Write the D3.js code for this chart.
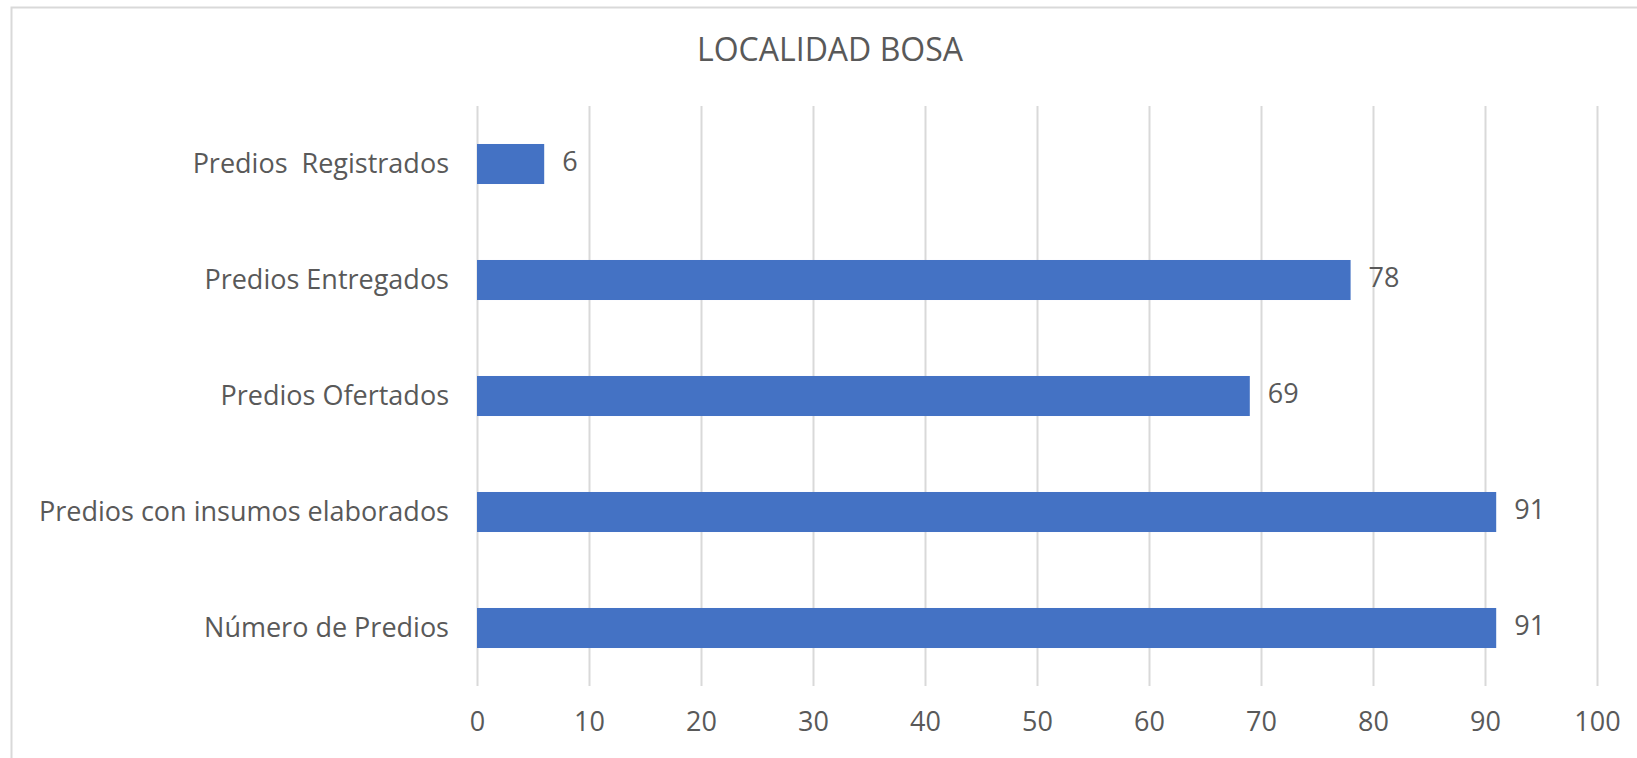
<!DOCTYPE html>
<html>
<head>
<meta charset="utf-8">
<script src="https://cdn.jsdelivr.net/npm/d3@7"></script>
<style>
  body { margin: 0; background: #fff; }
  text { font-family: "Open Sans", "Noto Sans", sans-serif; fill: #595959; }
</style>
</head>
<body>
<svg id="chart" width="1637" height="758"></svg>
<script>
var title = "LOCALIDAD BOSA";
var categories = ["Predios  Registrados", "Predios Entregados", "Predios Ofertados", "Predios con insumos elaborados", "Número de Predios"];
var values = [6, 78, 69, 91, 91];
var xTicks = [0, 10, 20, 30, 40, 50, 60, 70, 80, 90, 100];

var svg = d3.select("#chart");
var margin = { top: 106, right: 35, bottom: 72, left: 477 };
var width = 1637 - margin.left - margin.right;
var height = 758 - margin.top - margin.bottom;

// chart area frame
svg.append("path")
  .attr("d", "M11.5,758 V7.5 H1637")
  .attr("fill", "none")
  .attr("stroke", "#d9d9d9")
  .attr("stroke-width", 2);

svg.append("text")
  .attr("x", 830)
  .attr("y", 52)
  .attr("text-anchor", "middle")
  .attr("dominant-baseline", "middle")
  .style("font-size", "32px")
  .text(title);

var x = d3.scaleLinear().domain([0, 100]).range([0, 1120]);
var y = d3.scaleBand().domain(categories).range([0, height]).paddingInner(0.655).paddingOuter(0.3275);

var g = svg.append("g").attr("transform", "translate(" + margin.left + "," + margin.top + ")");

// gridlines
g.append("g")
  .selectAll("line")
  .data(xTicks)
  .join("line")
  .attr("x1", d => x(d) + 0.5)
  .attr("x2", d => x(d) + 0.5)
  .attr("y1", 0)
  .attr("y2", height)
  .attr("stroke", "#d9d9d9")
  .attr("stroke-width", 2);

// x axis labels
var xAxis = g.append("g")
  .attr("transform", "translate(0," + height + ")")
  .call(d3.axisBottom(x).tickValues(xTicks).tickSize(0).tickPadding(26));
xAxis.select(".domain").remove();
xAxis.selectAll("text").style("font-size", "27px").attr("fill", "#595959");

// y axis labels
var yAxis = g.append("g")
  .call(d3.axisLeft(y).tickSize(0).tickPadding(28));
yAxis.select(".domain").remove();
yAxis.selectAll("text").style("font-size", "27px").attr("fill", "#595959").style("white-space", "pre");

// bars
g.append("g")
  .selectAll("rect")
  .data(values)
  .join("rect")
  .attr("x", 0)
  .attr("y", (d, i) => y(categories[i]))
  .attr("width", d => x(d))
  .attr("height", y.bandwidth())
  .attr("fill", "#4472c4");

// value labels
g.append("g")
  .selectAll("text")
  .data(values)
  .join("text")
  .attr("x", d => x(d) + 18)
  .attr("y", (d, i) => y(categories[i]) + y.bandwidth() / 2)
  .attr("dominant-baseline", "middle")
  .style("font-size", "27px")
  .text(d => d);
</script>
</body>
</html>
